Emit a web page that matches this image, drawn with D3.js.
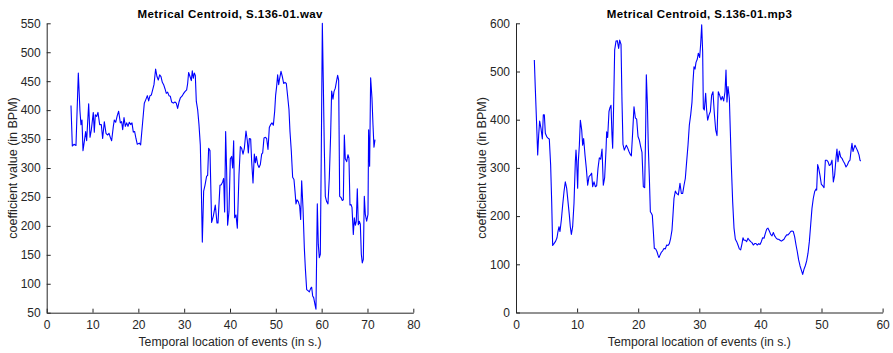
<!DOCTYPE html>
<html>
<head>
<meta charset="utf-8">
<script src="https://cdn.jsdelivr.net/npm/d3@7"></script>
<style>
  body { margin: 0; background: #fff; }
  svg { display: block; }
  .tick text { font-family: "Liberation Sans Narrow", "Arial Narrow", "Liberation Sans", sans-serif; font-size: 12px; fill: #262626; }
  .lab { font-family: "Liberation Sans Narrow", "Arial Narrow", "Liberation Sans", sans-serif; font-size: 12.5px; fill: #262626; }
  .ttl { font-family: "Liberation Sans", Arial, sans-serif; font-size: 11.5px; font-weight: bold; fill: #000; }
</style>
</head>
<body>
<div id="canvas"></div>
<script>
// left panel: wav
const wavTime = [5.30,5.59,5.95,6.39,6.90,7.26,7.48,7.70,7.92,8.21,8.50,8.72,9.16,9.45,9.74,10.17,10.39,10.61,10.90,11.19,
  11.56,11.92,12.21,12.57,12.94,13.30,13.59,13.88,14.17,14.54,14.76,15.05,15.41,15.70,16.07,16.36,16.58,16.87,17.16,17.45,
  17.74,18.03,18.32,18.61,18.90,19.19,19.48,19.77,20.21,20.50,20.79,21.08,21.30,21.67,21.96,22.25,22.54,22.83,23.12,23.41,
  23.77,24.06,24.35,24.65,24.94,25.23,25.52,25.81,26.10,26.39,26.68,26.97,27.27,27.63,27.99,28.28,28.57,28.87,29.16,29.52,
  29.81,30.17,30.54,30.76,30.97,31.27,31.56,31.77,31.99,32.21,32.43,32.65,32.94,33.23,33.52,33.74,33.96,34.25,34.54,34.90,
  35.12,35.34,35.63,35.99,36.36,36.79,37.16,37.38,37.81,38.10,38.39,38.61,38.83,39.05,39.27,39.48,39.78,40.07,40.36,40.58,
  40.80,41.02,41.31,41.60,41.96,42.26,42.55,42.84,43.13,43.49,43.78,44.00,44.22,44.51,44.73,45.02,45.31,45.53,45.75,46.04,
  46.33,46.62,46.91,47.13,47.42,47.71,48.00,48.29,48.58,48.87,49.16,49.46,49.75,49.96,50.18,50.40,50.62,50.84,51.13,51.42,
  51.71,52.00,52.29,52.58,52.87,53.09,53.38,53.67,53.96,54.18,54.40,54.62,54.91,55.20,55.42,55.64,55.93,56.22,56.44,56.73,
  57.02,57.31,57.60,57.82,58.04,58.26,58.55,58.76,59.05,59.27,59.49,59.71,59.93,60.15,60.36,60.58,60.80,61.09,61.38,61.67,
  61.96,62.18,62.47,62.69,62.98,63.27,63.49,63.71,63.93,64.22,64.51,64.73,64.95,65.16,65.46,65.75,65.96,66.18,66.40,66.62,
  66.91,67.13,67.35,67.56,67.78,68.00,68.22,68.44,68.66,68.87,69.09,69.31,69.53,69.82,70.11,70.25,70.47,70.69,70.98,71.20,
  71.42,71.64];
const wavValue = [408,338,341,339,464,398,375,383,330,346,363,347,411,353,366,396,362,392,389,396,
  375,375,351,380,360,357,360,353,347,372,383,379,391,398,378,380,366,387,372,378,
  372,379,375,378,362,363,351,341,343,340,366,392,412,419,425,416,425,426,435,444,
  471,458,452,461,458,448,444,437,429,431,425,424,414,412,414,412,403,414,421,424,
  428,432,435,446,465,458,451,468,455,464,460,415,401,375,340,265,172,260,270,286,
  287,334,330,206,217,236,205,205,270,271,276,282,224,363,294,201,225,316,320,300,
  347,214,219,196,288,337,334,324,334,364,347,326,351,350,311,274,324,309,320,306,
  301,306,324,326,352,353,351,332,370,375,378,374,398,426,441,461,444,455,467,458,
  446,448,446,424,401,363,329,284,280,260,238,245,242,234,211,278,231,162,127,90,
  88,86,92,94,79,76,64,56,238,168,145,151,334,550,449,334,251,242,238,283,
  357,433,419,432,438,451,460,452,251,249,244,245,357,316,311,323,317,236,237,232,
  185,214,201,208,264,202,208,203,151,136,142,251,220,208,220,366,303,456,421,375,
  336,349];

// right panel: mp3
const mp3Time = [3.00,3.16,3.38,3.55,3.71,3.87,4.09,4.31,4.47,4.64,4.80,5.02,5.29,5.45,5.67,5.84,6.00,6.22,6.49,6.71,
  6.87,7.04,7.20,7.42,7.64,7.86,8.07,8.29,8.51,8.73,8.89,9.06,9.27,9.49,9.71,9.82,9.93,10.09,10.20,10.37,
  10.53,10.75,10.91,11.07,11.29,11.51,11.73,11.95,12.17,12.38,12.55,12.77,12.98,13.20,13.42,13.64,13.86,14.08,14.29,14.51,
  14.73,14.84,15.00,15.22,15.38,15.55,15.71,15.82,15.98,16.15,16.37,16.58,16.80,16.97,17.19,17.35,17.51,17.73,17.89,18.06,
  18.28,18.49,18.71,18.88,19.10,19.31,19.53,19.75,19.97,20.18,20.40,20.62,20.84,21.06,21.22,21.33,21.50,21.66,21.82,21.99,
  22.15,22.31,22.48,22.64,22.86,23.08,23.24,23.40,23.57,23.79,24.00,24.22,24.44,24.66,24.88,25.10,25.31,25.53,25.69,25.86,
  26.08,26.29,26.57,26.84,27.06,27.28,27.50,27.71,27.93,28.15,28.37,28.59,28.80,28.97,29.13,29.30,29.46,29.68,29.84,30.06,
  30.23,30.39,30.55,30.66,30.82,31.04,31.20,31.37,31.59,31.81,32.02,32.24,32.46,32.68,32.90,33.11,33.33,33.55,33.77,33.99,
  34.21,34.37,34.53,34.70,34.92,35.08,35.24,35.46,35.68,35.90,36.12,36.33,36.55,36.77,36.99,37.15,37.32,37.53,37.75,37.97,
  38.19,38.41,38.62,38.84,39.06,39.28,39.50,39.72,39.93,40.15,40.37,40.59,40.81,41.03,41.24,41.46,41.68,41.90,42.12,42.33,
  42.55,42.77,42.99,43.21,43.43,43.64,43.86,44.08,44.30,44.52,44.74,44.95,45.17,45.39,45.61,45.83,46.04,46.26,46.48,46.70,
  46.92,47.14,47.35,47.57,47.79,48.01,48.23,48.44,48.66,48.88,49.10,49.21,49.37,49.54,49.76,49.97,50.19,50.41,50.63,50.84,
  51.06,51.28,51.50,51.72,51.94,52.15,52.37,52.53,52.70,52.92,53.13,53.35,53.57,53.79,54.01,54.23,54.45,54.66,54.88,54.99,
  55.15,55.32,55.48,55.70,55.92,56.14,56.30,56.41];
const mp3Value = [524,465,389,327,368,397,382,360,410,410,372,365,361,360,306,230,139,143,148,155,
  168,178,168,192,223,251,271,258,230,202,178,162,178,226,313,337,313,258,313,347,
  399,379,347,361,327,299,264,282,285,289,261,271,261,263,299,321,318,339,264,280,
  337,375,363,417,425,430,368,341,430,545,563,564,548,565,556,437,349,337,342,347,
  341,334,328,325,375,427,404,401,365,358,344,332,261,259,377,493,434,341,282,209,
  206,202,168,133,132,126,119,114,119,125,128,133,132,140,139,143,154,171,202,237,
  252,247,244,268,247,247,264,278,313,347,389,410,436,479,510,505,519,526,538,529,
  558,597,541,424,420,455,420,399,410,417,451,458,413,379,367,458,451,441,448,439,
  458,503,437,469,444,375,306,230,175,152,147,140,132,130,143,155,150,150,147,154,
  150,147,145,140,143,143,140,143,141,147,155,154,164,173,175,169,162,159,166,159,
  155,152,152,150,148,150,152,157,161,161,164,168,169,168,157,140,126,109,97,88,
  79,90,97,107,123,147,182,216,237,251,256,254,307,299,284,266,263,259,316,316,
  313,305,307,316,271,285,320,339,313,335,323,320,314,309,302,306,313,316,341,351,
  334,341,347,341,335,327,316,314];

const wavXTicks = [0,10,20,30,40,50,60,70,80];
const wavYTicks = [50,100,150,200,250,300,350,400,450,500,550];
const mp3XTicks = [0,10,20,30,40,50,60];
const mp3YTicks = [0,100,200,300,400,500,600];

const width = 893;
const height = 353;

const svg = d3.select("#canvas").append("svg")
    .attr("width", width)
    .attr("height", height);

function panel(opts) {
  const x = d3.scaleLinear().domain(opts.xDomain).range([opts.left, opts.right]);
  const y = d3.scaleLinear().domain(opts.yDomain).range([opts.bottom, opts.top]);
  const g = svg.append("g");

  g.append("g")
      .attr("transform", `translate(0,${opts.bottom})`)
      .call(d3.axisBottom(x).tickValues(opts.xTicks).tickSizeInner(-4).tickSizeOuter(0).tickPadding(8))
      .call(a => a.select(".domain").attr("stroke", "#262626"))
      .call(a => a.selectAll(".tick line").attr("stroke", "#262626"));

  g.append("g")
      .attr("transform", `translate(${opts.left},0)`)
      .call(d3.axisLeft(y).tickValues(opts.yTicks).tickSizeInner(-4).tickSizeOuter(0).tickPadding(6))
      .call(a => a.select(".domain").attr("stroke", "#262626"))
      .call(a => a.selectAll(".tick line").attr("stroke", "#262626"));

  const line = d3.line()
      .x((d, i) => x(opts.time[i]))
      .y(d => y(d));

  g.append("path")
      .datum(opts.values)
      .attr("fill", "none")
      .attr("stroke", "#0000ff")
      .attr("stroke-width", 1.1)
      .attr("stroke-linejoin", "round")
      .attr("d", line);

  const cx = (opts.left + opts.right) / 2;
  g.append("text").attr("class", "ttl")
      .attr("x", cx).attr("y", 17.5)
      .attr("text-anchor", "middle")
      .attr("textLength", 185)
      .attr("lengthAdjust", "spacing")
      .text(opts.title);

  g.append("text").attr("class", "lab")
      .attr("x", cx).attr("y", 346)
      .attr("text-anchor", "middle")
      .attr("textLength", 183)
      .attr("lengthAdjust", "spacingAndGlyphs")
      .text("Temporal location of events (in s.)");

  g.append("text").attr("class", "lab")
      .attr("transform", `translate(${opts.yLabelX},${(opts.top + opts.bottom) / 2}) rotate(-90)`)
      .attr("text-anchor", "middle")
      .text("coefficient value (in BPM)");
}

panel({
  time: wavTime, values: wavValue,
  xDomain: [0, 80], yDomain: [50, 550],
  xTicks: wavXTicks, yTicks: wavYTicks,
  left: 46.7, right: 413.3, top: 23.3, bottom: 312.7,
  yLabelX: 17,
  title: "Metrical Centroid, S.136-01.wav"
});

panel({
  time: mp3Time, values: mp3Value,
  xDomain: [0, 60], yDomain: [0, 600],
  xTicks: mp3XTicks, yTicks: mp3YTicks,
  left: 516, right: 882.6, top: 23.3, bottom: 312.5,
  yLabelX: 486,
  title: "Metrical Centroid, S.136-01.mp3"
});
</script>
</body>
</html>
